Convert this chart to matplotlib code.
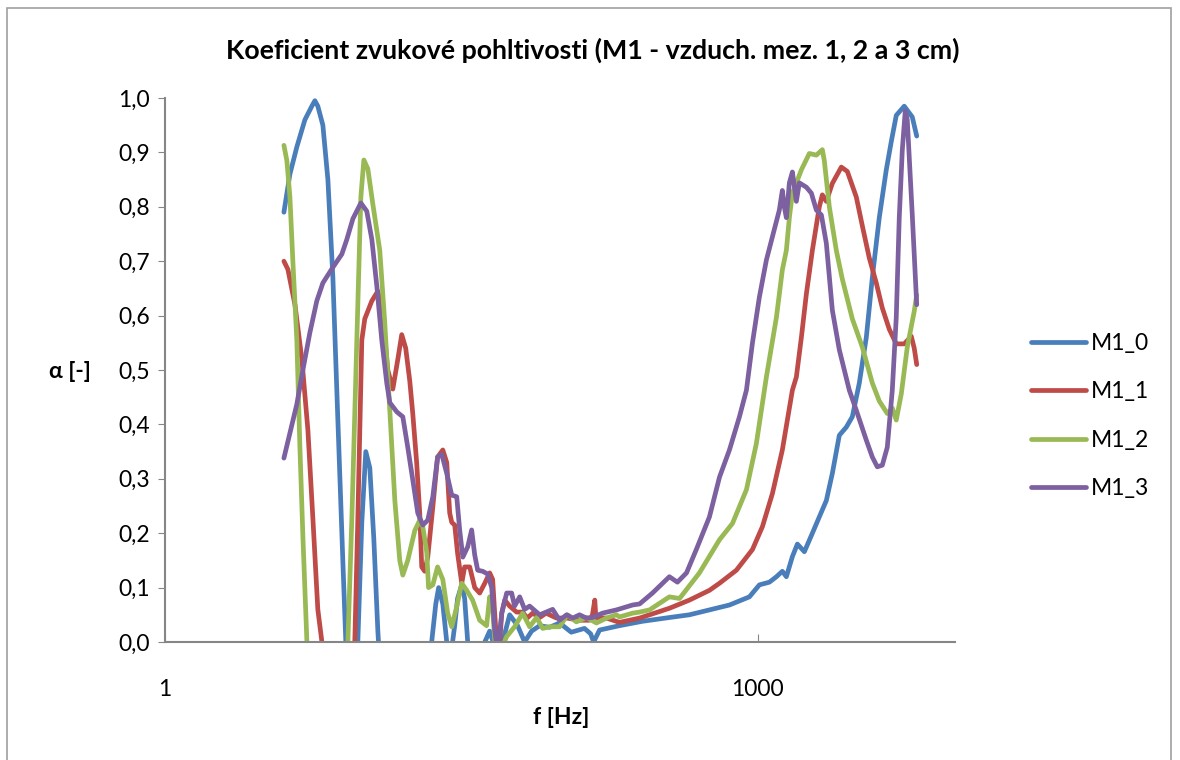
import matplotlib
matplotlib.use("Agg")
import matplotlib.pyplot as plt
from matplotlib.ticker import FixedLocator, FuncFormatter
from matplotlib.patches import Rectangle

plt.rcParams['font.family'] = ['Lato', 'DejaVu Sans']

# frekvence [Hz] a koeficient pohltivosti [-]
f_m10 = [4.0, 4.29, 4.65, 5.11, 5.54, 5.74, 5.94, 6.30, 6.68, 7.08, 7.50, 7.95, 8.33, 8.63,
         9.04, 9.47, 9.92, 10.39, 10.89, 11.41, 11.96, 12.52, 16.4, 21.4, 22.4, 23.5,
         24.3, 25.5, 26.7, 27.64, 29.3, 30.3, 31.8, 32.9, 34.1, 35.7, 39.2, 41.6, 44.05,
         46.8, 51.2, 55.6, 61.0, 66.2, 71.8, 78.9, 88.6, 99.5, 114, 133, 143, 148, 158.6,
         200, 261, 358, 452, 571, 721, 910, 1022, 1149, 1247, 1336, 1400, 1502, 1592,
         1727, 1896, 2056, 2231, 2393, 2596, 2817, 3021, 3277, 3556, 3814, 4136, 4488,
         4758, 5042, 5534, 6077, 6400]
a_m10 = [0.79, 0.86, 0.91, 0.96, 0.985, 0.995, 0.985, 0.95, 0.85, 0.67, 0.41, 0.15, -0.05, -0.2,
         -0.3, 0.0, 0.22, 0.35, 0.32, 0.19, 0.02, -0.1, -0.5, -0.08, 0.0, 0.07,
         0.10, 0.07, 0.0, -0.04, 0.03, 0.08, 0.105, 0.08, 0.0, -0.05, -0.03, 0.0, 0.02,
         -0.01, 0.0, 0.05, 0.03, 0.0, 0.02, 0.03, 0.027, 0.035, 0.018, 0.025, 0.015, 0.0, 0.022,
         0.03, 0.038, 0.045, 0.05, 0.059, 0.068, 0.083, 0.105, 0.11, 0.12, 0.13, 0.12, 0.157, 0.18,
         0.166, 0.2, 0.23, 0.26, 0.31, 0.38, 0.395, 0.414, 0.476, 0.56, 0.67, 0.78, 0.868,
         0.92, 0.968, 0.985, 0.965, 0.93]

f_m11 = [4.0, 4.19, 4.55, 4.93, 5.29, 5.61, 5.94, 6.23, 6.52, 7.68, 8.83, 9.14, 9.47,
         9.92, 10.27, 11.15, 11.96, 12.67, 13.43, 14.24, 15.1, 15.8, 16.55, 17.35, 17.97,
         18.8, 19.49, 19.95, 20.66, 21.4, 22.7, 24.0, 25.5, 26.7, 27.64, 28.3, 29.3, 30.3,
         31.8, 32.9, 34.9, 37.0, 39.2, 41.6, 44.05, 45.6, 46.7, 47.8, 48.9, 50.7, 52.5,
         55.6, 60.3, 64.7, 68.2, 72.7, 78.9, 85.0, 96.0, 108, 125.6, 141, 146, 150, 152,
         172, 200, 253, 358, 452, 571, 642, 782, 943, 1059, 1190, 1336, 1502, 1573, 1668,
         1768, 1896, 2056, 2130, 2231, 2393, 2658, 2850, 3164, 3395, 3681, 3994, 4285,
         4647, 5042, 5534, 6007, 6218, 6400]
a_m11 = [0.70, 0.685, 0.62, 0.52, 0.39, 0.226, 0.06, 0.0, -0.2, -0.5, -0.2, 0.0, 0.226,
         0.555, 0.594, 0.627, 0.645, 0.60, 0.5, 0.465, 0.52, 0.565, 0.54, 0.48, 0.42,
         0.33, 0.237, 0.138, 0.13, 0.156, 0.248, 0.34, 0.353, 0.33, 0.237, 0.22, 0.215, 0.163,
         0.108, 0.138, 0.138, 0.10, 0.09, 0.108, 0.127, 0.115, 0.053, 0.0, -0.03, 0.053, 0.077,
         0.066, 0.055, 0.055, 0.044, 0.053, 0.045, 0.053, 0.044, 0.044, 0.04, 0.04, 0.05, 0.077, 0.045,
         0.044, 0.036, 0.044, 0.062, 0.077, 0.095, 0.108, 0.132, 0.17, 0.212, 0.273, 0.353, 0.463, 0.487, 0.56,
         0.64, 0.72, 0.80, 0.822, 0.81, 0.843, 0.873, 0.865, 0.818, 0.765, 0.706, 0.66, 0.614,
         0.575, 0.548, 0.548, 0.562, 0.54, 0.51]

f_m12 = [4.0, 4.14, 4.29, 4.44, 4.65, 4.82, 4.99, 5.23, 5.41, 8.1, 8.43, 8.83, 9.36,
         9.81, 10.16, 10.64, 11.28, 12.23, 12.96, 13.75, 14.58, 15.44, 16.0, 16.95, 18.4,
         19.49, 20.2, 21.15, 21.6, 22.7, 24.0, 25.5, 27.0, 28.3, 30.0, 31.8, 33.7, 36.1,
         39.2, 42.5, 44.05, 45.6, 46.8, 49.5, 53.7, 58.9, 64.7, 70.2, 76.1, 81.7, 88.6,
         99.5, 109, 121, 136, 153, 172, 193, 200, 233, 253, 284, 358, 403, 508, 642, 747,
         879, 987, 1109, 1247, 1336, 1400, 1450, 1502, 1668, 1830, 1986, 2130, 2179, 2310,
         2506, 2689, 3021, 3395, 3814, 4136, 4541, 4814, 5042, 5346, 5733, 6218, 6400]
a_m12 = [0.913, 0.885, 0.818, 0.70, 0.555, 0.358, 0.195, 0.0, -0.2, -0.4, 0.0, 0.226, 0.555,
         0.818, 0.886, 0.87, 0.805, 0.72, 0.588, 0.425, 0.26, 0.15, 0.123, 0.15, 0.205,
         0.224, 0.212, 0.165, 0.10, 0.105, 0.138, 0.115, 0.053, 0.028, 0.065, 0.108, 0.095, 0.077,
         0.04, 0.03, 0.083, 0.06, 0.0, -0.02, 0.01, 0.028, 0.053, 0.028, 0.045, 0.025, 0.028,
         0.028, 0.05, 0.037, 0.045, 0.035, 0.044, 0.05, 0.046, 0.053, 0.055, 0.059, 0.083, 0.08, 0.127, 0.188, 0.218,
         0.28, 0.365, 0.487, 0.597, 0.684, 0.72, 0.78, 0.825, 0.868, 0.898, 0.895, 0.905, 0.885, 0.80,
         0.72, 0.667, 0.594, 0.542, 0.476, 0.443, 0.42, 0.43, 0.408, 0.456, 0.542, 0.608, 0.638]

f_m13 = [4.0, 4.29, 4.65, 4.99, 5.41, 5.87, 6.30, 7.00, 7.86, 8.33, 8.94, 9.81, 10.51,
         11.15, 11.82, 12.52, 13.27, 13.75, 14.92, 16.0, 16.95, 17.97, 19.05, 20.2, 21.4,
         22.7, 24.0, 25.2, 26.7, 28.3, 30.0, 31.05, 32.2, 34.1, 35.7, 37.0, 38.3, 40.6,
         43.0, 45.1, 46.7, 48.3, 50.7, 53.7, 56.9, 58.9, 62.5, 66.2, 70.2, 78.9, 91.8,
         99.5, 108, 116, 125.6, 136, 146, 164, 193, 233, 253, 294, 358, 393, 437, 490, 571,
         642, 721, 810, 879, 943, 1022, 1109, 1190, 1290, 1336, 1367, 1400, 1450, 1502,
         1573, 1629, 1768, 1874, 1986, 2106, 2231, 2393, 2596, 2916, 3164, 3556, 3814,
         4042, 4285, 4541, 4814, 5042, 5221, 5409, 5597, 5733, 6077, 6400]
a_m13 = [0.338, 0.384, 0.437, 0.50, 0.568, 0.627, 0.66, 0.686, 0.713, 0.74, 0.778, 0.807, 0.792,
         0.74, 0.654, 0.555, 0.476, 0.44, 0.423, 0.414, 0.358, 0.298, 0.237, 0.215, 0.224,
         0.267, 0.34, 0.345, 0.31, 0.27, 0.267, 0.206, 0.156, 0.175, 0.206, 0.16, 0.132, 0.13,
         0.125, 0.10, 0.022, -0.02, 0.053, 0.09, 0.09, 0.066, 0.083, 0.06, 0.066, 0.05, 0.06,
         0.04, 0.05, 0.044, 0.05, 0.044, 0.045, 0.053, 0.059, 0.068, 0.07, 0.09, 0.12, 0.11, 0.127, 0.17, 0.23,
         0.303, 0.353, 0.414, 0.463, 0.55, 0.634, 0.702, 0.745, 0.794, 0.83, 0.80, 0.78, 0.844, 0.864,
         0.81, 0.844, 0.836, 0.825, 0.794, 0.785, 0.733, 0.61, 0.537, 0.463, 0.426, 0.371, 0.34,
         0.322, 0.325, 0.358, 0.463, 0.597, 0.78, 0.904, 0.976, 0.96, 0.785, 0.62]

series = [("M1_0", f_m10, a_m10, "#4A7EBB"),
          ("M1_1", f_m11, a_m11, "#BE4B48"),
          ("M1_2", f_m12, a_m12, "#98B954"),
          ("M1_3", f_m13, a_m13, "#7D60A0")]

fig = plt.figure(figsize=(11.8, 7.6), dpi=100)
fig.patches.append(Rectangle((7 / 1180, -0.05), 1164 / 1180, 1.04 - 8 / 760 + 0.01,
                             transform=fig.transFigure, fill=False,
                             edgecolor="#A0A0A0", linewidth=1.2))

ax = fig.add_axes([165 / 1180, (760 - 642) / 760, (955 - 165) / 1180, (642 - 98) / 760])

for name, f, a, c in series:
    ax.plot(f, a, color=c, lw=3.4, label=name, solid_joinstyle="round",
            solid_capstyle="round")

ax.set_xscale("log")
ax.set_xlim(1, 10000)
ax.set_ylim(0, 1.0)
ax.xaxis.set_major_locator(FixedLocator([1, 1000]))
ax.xaxis.set_minor_locator(FixedLocator([]))
ax.xaxis.set_major_formatter(FuncFormatter(lambda v, p: "%d" % v))
ax.yaxis.set_major_locator(FixedLocator([i / 10 for i in range(11)]))
ax.yaxis.set_major_formatter(FuncFormatter(lambda v, p: ("%.1f" % v).replace(".", ",")))

for s in ["top", "right"]:
    ax.spines[s].set_visible(False)
for s in ["left", "bottom"]:
    ax.spines[s].set_color("#868686")
    ax.spines[s].set_linewidth(1.5)
ax.tick_params(axis="y", direction="out", length=5, color="#868686", labelsize=16.5, pad=6)
ax.tick_params(axis="x", direction="in", length=6, color="#868686", labelsize=16.5, pad=27)

fig.text(593 / 1180, 1 - 50 / 760, "Koeficient zvukové pohltivosti (M1 - vzduch. mez. 1, 2 a 3 cm)",
         ha="center", va="center", fontsize=19.3, fontweight="bold")
fig.text(70 / 1180, 1 - 372 / 760, "α [-]", ha="center", va="center", fontsize=16.5, fontweight="bold")
fig.text(561 / 1180, 1 - 718 / 760, "f [Hz]", ha="center", va="center", fontsize=16.5, fontweight="bold")

fig.legend(loc="center left", bbox_to_anchor=(1010 / 1180, 1 - 416 / 760), frameon=False,
           fontsize=16.5, handlelength=2.4, labelspacing=1.2, handletextpad=0.25)

fig.savefig("out.png", dpi=100)
